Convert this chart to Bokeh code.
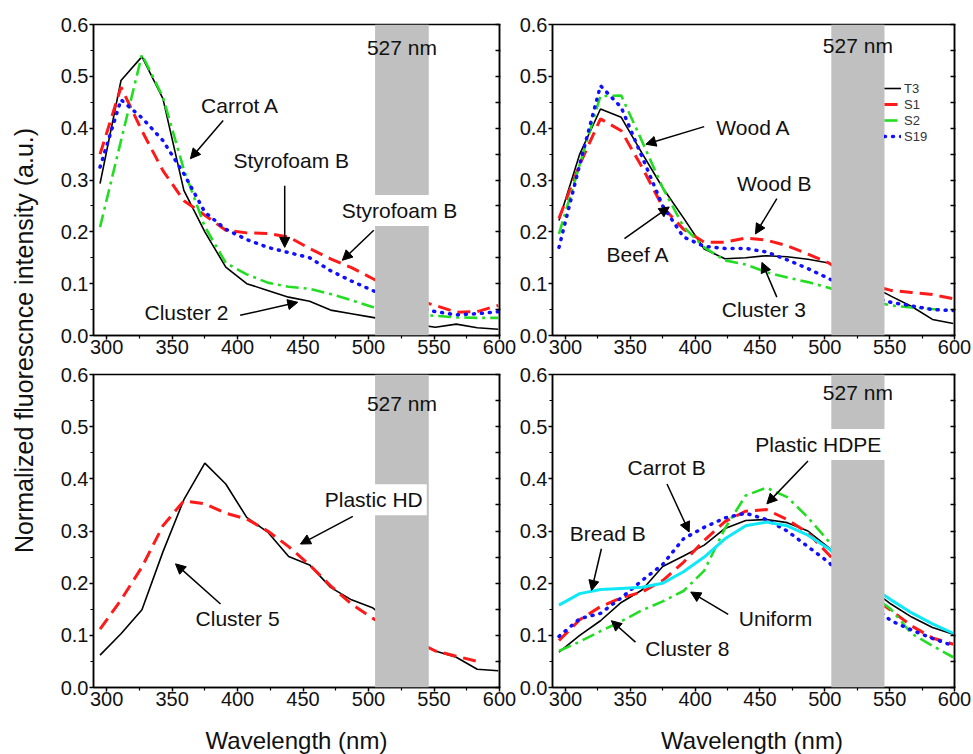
import math
from bokeh.plotting import figure
from bokeh.models import (Range1d, LinearAxis, FixedTicker, PrintfTickFormatter,
                          BoxAnnotation, Label, Arrow, NormalHead, Legend, LegendItem)
from bokeh.layouts import row, column
from bokeh.embed import file_html
from bokeh.resources import INLINE

NAN = float("nan")

# ---------------- data ----------------
wavelength = [295, 311, 327, 343, 359, 375, 391, 407, 423, 439,
              455, 471, 487, 503, 519, 535, 551, 567, 583, 599]

p1_t3 = [0.293, 0.492, 0.538, 0.457, 0.280, 0.200, 0.132, 0.100, 0.087, 0.074,
         0.066, 0.049, 0.042, 0.035, 0.028, 0.022, 0.016, 0.022, 0.015, 0.012]
p1_s1 = [0.350, 0.479, 0.395, 0.318, 0.260, 0.232, 0.203, 0.198, 0.197, 0.190,
         0.168, 0.148, 0.131, 0.110, 0.090, 0.070, 0.058, 0.045, 0.046, 0.058]
p1_s2 = [0.209, 0.376, 0.542, 0.460, 0.320, 0.210, 0.140, 0.118, 0.102, 0.094,
         0.090, 0.080, 0.068, 0.055, 0.047, 0.040, 0.038, 0.035, 0.034, 0.034]
p1_s19 = [0.325, 0.455, 0.420, 0.376, 0.312, 0.238, 0.205, 0.185, 0.170, 0.160,
          0.150, 0.125, 0.105, 0.087, 0.070, 0.055, 0.046, 0.040, 0.042, 0.046]

p2_t3 = [0.222, 0.350, 0.437, 0.421, 0.352, 0.285, 0.227, 0.167, 0.148, 0.150,
         0.154, 0.152, 0.147, 0.140, 0.118, 0.097, 0.076, 0.056, 0.031, 0.023]
p2_s1 = [0.226, 0.330, 0.418, 0.395, 0.325, 0.248, 0.205, 0.180, 0.180, 0.188,
         0.184, 0.173, 0.157, 0.140, 0.115, 0.098, 0.087, 0.083, 0.079, 0.071]
p2_s2 = [0.196, 0.330, 0.462, 0.463, 0.375, 0.285, 0.210, 0.170, 0.145, 0.137,
         0.122, 0.112, 0.103, 0.092, 0.078, 0.066, 0.058, 0.054, 0.051, 0.049]
p2_s19 = [0.170, 0.330, 0.482, 0.440, 0.345, 0.250, 0.190, 0.172, 0.168, 0.168,
          0.161, 0.146, 0.129, 0.110, 0.090, 0.075, 0.064, 0.057, 0.050, 0.048]

p3_t3 = [0.062, 0.103, 0.149, 0.260, 0.360, 0.430, 0.390, 0.326, 0.298, 0.251,
         0.235, 0.192, 0.168, 0.153, 0.120, 0.090, 0.070, 0.058, 0.035, 0.032]
p3_s1 = [0.112, 0.168, 0.231, 0.310, 0.358, 0.352, 0.334, 0.323, 0.300, 0.270,
         0.235, 0.195, 0.160, 0.133, 0.110, 0.090, 0.070, 0.060, 0.050, NAN]

p4_t3 = [0.068, 0.100, 0.128, 0.163, 0.187, 0.232, 0.252, 0.273, 0.305, 0.320,
         0.322, 0.316, 0.300, 0.268, 0.230, 0.190, 0.160, 0.135, 0.115, 0.102]
p4_s1 = [0.090, 0.130, 0.155, 0.172, 0.183, 0.205, 0.240, 0.282, 0.318, 0.338,
         0.341, 0.322, 0.296, 0.255, 0.210, 0.175, 0.148, 0.118, 0.095, 0.083]
p4_s2 = [0.070, 0.088, 0.108, 0.127, 0.148, 0.165, 0.185, 0.224, 0.305, 0.368,
         0.383, 0.365, 0.326, 0.280, 0.220, 0.180, 0.150, 0.103, 0.080, 0.058]
p4_s19 = [0.098, 0.132, 0.142, 0.172, 0.205, 0.236, 0.285, 0.307, 0.325, 0.334,
          0.322, 0.300, 0.270, 0.240, 0.200, 0.160, 0.128, 0.110, 0.094, 0.080]
p4_bread = [0.158, 0.180, 0.188, 0.190, 0.192, 0.200, 0.222, 0.250, 0.285, 0.310,
            0.317, 0.310, 0.292, 0.266, 0.230, 0.195, 0.168, 0.143, 0.122, 0.104]

x_ticks = [300, 350, 400, 450, 500, 550, 600]
x_minor = [325, 375, 425, 475, 525, 575]
y_ticks = [0.0, 0.1, 0.2, 0.3, 0.4, 0.5, 0.6]
y_minor = [0.05, 0.15, 0.25, 0.35, 0.45, 0.55]
band_nm = (505, 546)
band_label = "527 nm"
x_title = "Wavelength (nm)"
y_title = "Normalized fluorescnce intensity (a.u.)"

# ---------------- styles ----------------
FONT = "Liberation Sans"
TXT = "#111111"
STY = {
    "t3": dict(line_color="black", line_width=1.6),
    "s1": dict(line_color="#ff1a1a", line_width=3, line_dash="13 7"),
    "s2": dict(line_color="#22dd22", line_width=2.6, line_dash="13 5 3 5"),
    "s19": dict(line_color="#1010ff", line_width=3.5, line_dash="1 7", line_cap="round"),
    "bread": dict(line_color="#10e8f8", line_width=3),
}


def make_panel(width, height, bl, br, bt, bb):
    p = figure(width=width, height=height, x_range=Range1d(290, 600), y_range=Range1d(0, 0.6),
               output_backend="svg", toolbar_location=None,
               min_border_left=bl, min_border_right=br, min_border_top=bt, min_border_bottom=bb)
    p.grid.visible = False
    p.outline_line_color = "black"
    p.outline_line_width = 1.5
    p.background_fill_color = "white"
    p.border_fill_color = "white"

    xa = p.xaxis[0]
    xa.ticker = FixedTicker(ticks=x_ticks, minor_ticks=x_minor)
    ya = p.yaxis[0]
    ya.ticker = FixedTicker(ticks=y_ticks, minor_ticks=y_minor)
    ya.formatter = PrintfTickFormatter(format="%.1f")
    for ax in (xa, ya):
        ax.axis_line_width = 1.5
        ax.major_tick_line_width = 1.5
        ax.minor_tick_line_width = 1.2
        ax.major_tick_in = 0
        ax.major_tick_out = 4
        ax.minor_tick_in = 0
        ax.minor_tick_out = 3
        ax.major_label_text_font = FONT
        ax.major_label_text_font_size = "20px"
        ax.major_label_text_color = TXT
    ya.major_label_standoff = 1
    xa.major_label_standoff = 0

    # right axis: ticks only (no labels)
    ra = LinearAxis(ticker=FixedTicker(ticks=[], minor_ticks=y_ticks + y_minor),
                    minor_tick_in=4, minor_tick_out=1,
                    axis_line_width=1.5, minor_tick_line_width=1.4)
    p.add_layout(ra, "right")
    return p


def add_lines(p, series):
    rends = {}
    for key, ys in series:
        rends[key] = p.line(wavelength, ys, **STY[key])
    return rends


def add_band(p, y_band):
    p.add_layout(BoxAnnotation(left=band_nm[0], right=band_nm[1], fill_color="#c0c0c0",
                               fill_alpha=1.0, line_color=None, level="annotation"))
    p.add_layout(Label(x=(band_nm[0] + band_nm[1]) / 2, y=y_band, text=band_label,
                       text_font=FONT, text_font_size="21px", text_color=TXT,
                       text_align="center", text_baseline="middle"))


def add_text(p, txt, x, y, bg=False):
    kw = {}
    if bg:
        kw = dict(background_fill_color="white", background_fill_alpha=1.0, padding=4)
    p.add_layout(Label(x=x, y=y, text=txt, text_font=FONT, text_font_size="21px",
                       text_color=TXT, text_align="center", text_baseline="middle", **kw))


def add_arrow(p, x0, y0, x1, y1):
    p.add_layout(Arrow(end=NormalHead(size=10, fill_color="black", line_color="black", line_width=1),
                       x_start=x0, y_start=y0, x_end=x1, y_end=y1,
                       line_color="black", line_width=1.5))


# ---------------- panels ----------------
TOP_H, BOT_H, TITLE_H = 362, 352, 40
W_YT, W_L, W_R = 40, 476, 457

p1 = make_panel(W_L, TOP_H, 53, 17, 24, 27)
add_lines(p1, [("t3", p1_t3), ("s1", p1_s1), ("s2", p1_s2), ("s19", p1_s19)])
add_band(p1, 0.556)
add_text(p1, "Carrot A", 402, 0.443)
add_arrow(p1, 389, 0.415, 364, 0.341)
add_text(p1, "Styrofoam B", 441, 0.338)
add_arrow(p1, 436, 0.289, 436, 0.170)
add_text(p1, "Styrofoam B", 523.6, 0.241, bg=True)
add_arrow(p1, 504, 0.203, 480, 0.145)
add_text(p1, "Cluster 2", 361, 0.044)
add_arrow(p1, 402, 0.039, 446, 0.064)

p2 = make_panel(W_R, TOP_H, 33, 19, 24, 27)
r2 = add_lines(p2, [("t3", p2_t3), ("s1", p2_s1), ("s2", p2_s2), ("s19", p2_s19)])
add_band(p2, 0.56)
add_text(p2, "Wood A", 445, 0.402)
add_arrow(p2, 407, 0.403, 362, 0.369)
add_text(p2, "Wood B", 461, 0.294)
add_arrow(p2, 463, 0.264, 446.5, 0.196)
add_text(p2, "Beef A", 356, 0.156)
add_arrow(p2, 345.5, 0.187, 380, 0.248)
add_text(p2, "Cluster 3", 453, 0.050)
add_arrow(p2, 463, 0.074, 451.5, 0.141)
legend = Legend(items=[LegendItem(label="T3", renderers=[r2["t3"]]),
                       LegendItem(label="S1", renderers=[r2["s1"]]),
                       LegendItem(label="S2", renderers=[r2["s2"]]),
                       LegendItem(label="S19", renderers=[r2["s19"]])],
                location=(332, 191), background_fill_alpha=0.0, border_line_color=None,
                label_text_font=FONT, label_text_font_size="13px", label_text_color="#333333",
                glyph_width=17, glyph_height=16, label_height=16, spacing=0,
                padding=0, margin=0, label_standoff=3)
p2.add_layout(legend)

p3 = make_panel(W_L, BOT_H, 53, 17, 12, 27)
add_lines(p3, [("t3", p3_t3), ("s1", p3_s1)])
add_band(p3, 0.544)
add_text(p3, "Plastic HD", 504, 0.360, bg=True)
add_arrow(p3, 488, 0.328, 448, 0.275)
add_text(p3, "Cluster 5", 400, 0.132)
add_arrow(p3, 387, 0.160, 352.6, 0.237)

p4 = make_panel(W_R, BOT_H, 33, 19, 12, 27)
add_lines(p4, [("t3", p4_t3), ("s1", p4_s1), ("s2", p4_s2), ("s19", p4_s19), ("bread", p4_bread)])
add_band(p4, 0.566)
add_text(p4, "Plastic HDPE", 495, 0.466, bg=True)
add_arrow(p4, 487, 0.434, 455.3, 0.352)
add_text(p4, "Carrot B", 378, 0.422)
add_arrow(p4, 378.3, 0.390, 395.4, 0.298)
add_text(p4, "Bread B", 332.6, 0.296)
add_arrow(p4, 327.7, 0.266, 320.1, 0.186)
add_text(p4, "Uniform", 462, 0.132)
add_arrow(p4, 425.5, 0.140, 396.6, 0.183)
add_text(p4, "Cluster 8", 394, 0.074)
add_arrow(p4, 354, 0.087, 335.4, 0.128)


def strip(width, height):
    f = figure(width=width, height=height, x_range=Range1d(0, width), y_range=Range1d(0, height),
               output_backend="svg", toolbar_location=None, x_axis_location=None, y_axis_location=None,
               min_border_left=0, min_border_right=0, min_border_top=0, min_border_bottom=0)
    f.grid.visible = False
    f.outline_line_color = None
    return f


# ---------------- shared x titles (strip under the bottom row) ----------------
xt = strip(W_L + W_R, TITLE_H)
for cx in (53 + 406 / 2, W_L + 33 + 405 / 2):
    xt.add_layout(Label(x=cx, y=14, text=x_title, text_font=FONT, text_font_size="24px",
                        text_color=TXT, text_align="center", text_baseline="middle"))

# ---------------- shared y title ----------------
TOTAL_H = TOP_H + BOT_H + TITLE_H
yl = strip(W_YT, TOTAL_H)
yl.add_layout(Label(x=23, y=TOTAL_H - 340, text=y_title, angle=math.pi / 2,
                    text_font=FONT, text_font_size="25px", text_color=TXT,
                    text_align="center", text_baseline="middle"))

layout = row(yl, column(row(p1, p2), row(p3, p4), xt))

with open("out.html", "w") as f:
    f.write(file_html(layout, INLINE))
